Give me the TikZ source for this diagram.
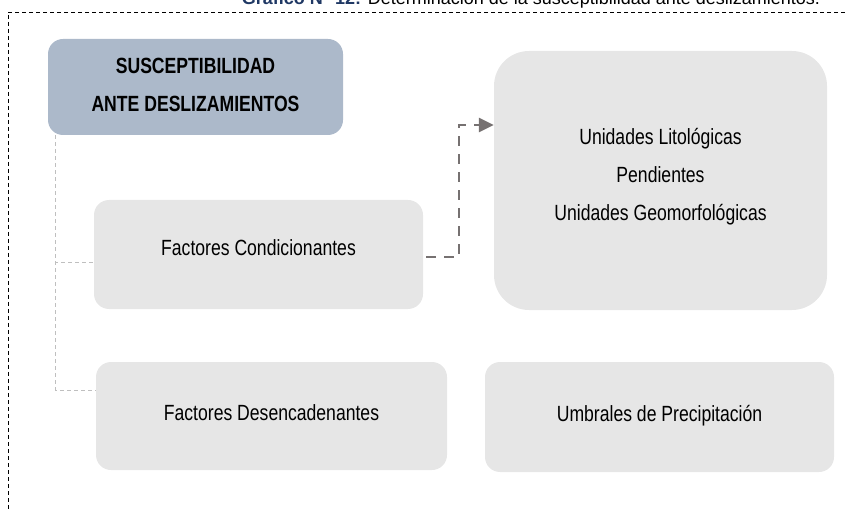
\documentclass[tikz,border=0pt]{standalone}
\usepackage{fontspec}
\setmainfont{Liberation Sans}[FakeStretch=0.8]
\newfontfamily\titlefont{Liberation Sans}
\usetikzlibrary{arrows.meta}
\definecolor{headblue}{HTML}{ACB9CA}
\definecolor{boxgray}{HTML}{E6E6E6}
\definecolor{arrowgray}{HTML}{767171}
\definecolor{linkgray}{HTML}{BFBFBF}
\definecolor{titleblue}{HTML}{1F3864}

\begin{document}
\begin{tikzpicture}[x=1pt, y=-1pt,
  box/.style={rounded corners=15pt, fill=boxgray, align=center, inner sep=0pt,
    font=\fontsize{22}{38}\selectfont},
  frame/.style={thin, black, dash pattern=on 4pt off 3pt},
  link/.style={linkgray, line width=1pt, dash pattern=on 4pt off 3pt},
  flow/.style={arrowgray, line width=2.8pt, dash pattern=on 10pt off 8pt,
    -{Triangle[length=15pt, width=14pt]}}]
  \useasboundingbox (0,0) rectangle (845,510);
  % Caption and frame
  \node[anchor=base, font=\titlefont\fontsize{18}{22}\selectfont] (title) at (531,5)
    {\textcolor{titleblue}{\bfseries Gráfico N° 12:} Determinación de la susceptibilidad ante deslizamientos.};
  \draw[frame] (845,12) -- (8,12) -- (8,510);
  % Main box
  \node[box, fill=headblue, text depth=4pt, minimum width=295pt, minimum height=96pt] (sus) at (195.5,87)
    {\textbf{SUSCEPTIBILIDAD}\\\textbf{ANTE DESLIZAMIENTOS}};
  % Factors
  \node[box, text depth=13pt, minimum width=329pt, minimum height=109pt] (cond) at (258.5,254.5) {Factores Condicionantes};
  \node[box, text depth=6pt, minimum width=351pt, minimum height=108pt] (desc) at (271.5,416) {Factores Desencadenantes};
  % Variables
  \node[box, rounded corners=35pt, text depth=12.5pt, minimum width=333pt, minimum height=259pt] (unid) at (660.5,180.5)
    {Unidades Litológicas\\Pendientes\\Unidades Geomorfológicas};
  \node[box, text depth=8pt, minimum width=349pt, minimum height=110pt] (umbr) at (659.5,417) {Umbrales de Precipitación};
  % Connectors
  \draw[link] ([xshift=8pt]sus.south west) |- ([yshift=-8.5pt]cond.west);
  \draw[link] ([xshift=8pt]sus.south west) |- ([yshift=26pt]desc.west);
  \coordinate (bend) at (459,257);
  \draw[flow] ([xshift=3pt, yshift=-2.5pt]cond.east) -- (bend) |- ([yshift=55.5pt]unid.west);
\end{tikzpicture}
\end{document}
